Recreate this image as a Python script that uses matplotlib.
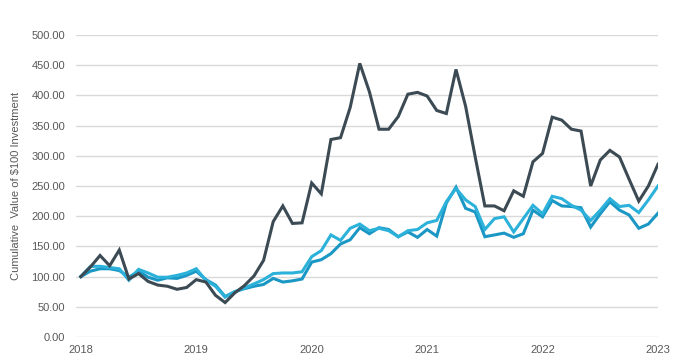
import matplotlib
matplotlib.use("Agg")
import matplotlib.pyplot as plt
import numpy as np

plt.rcParams['font.family'] = ['Liberation Sans', 'DejaVu Sans']

# monthly values, Jan 2018 .. Jan 2023
years = ["2018", "2019", "2020", "2021", "2022", "2023"]

dark = [100, 116, 135, 118, 144, 96, 105, 92, 86, 84, 79, 82,
        95, 91, 69, 57, 73, 85, 101, 127, 191, 217, 188, 189,
        255, 237, 327, 330, 380, 453, 406, 344, 344, 365, 402, 405,
        399, 375, 370, 443, 382, 298, 217, 217, 209, 242, 233, 290,
        304, 364, 359, 344, 341, 250, 293, 309, 298, 261, 225, 250,
        286]

blue_a = [100, 117, 117, 115, 113, 94, 112, 106, 99, 99, 102, 106,
          113, 94, 84, 66, 75, 81, 88, 95, 105, 106, 106, 108,
          133, 143, 169, 160, 180, 187, 176, 180, 176, 166, 176, 178,
          189, 193, 224, 246, 227, 216, 178, 196, 199, 174, 196, 218,
          204, 233, 229, 218, 210, 193, 210, 229, 216, 218, 206, 227,
          250]

blue_b = [100, 109, 113, 113, 110, 99, 109, 99, 94, 98, 97, 102,
          109, 95, 86, 67, 75, 80, 84, 87, 97, 91, 93, 96,
          124, 128, 138, 154, 161, 181, 171, 181, 178, 166, 174, 165,
          178, 167, 222, 248, 213, 207, 166, 169, 172, 165, 171, 210,
          199, 226, 217, 216, 214, 182, 204, 224, 210, 202, 180, 187,
          205]

months = np.arange(len(dark))

fig = plt.figure(figsize=(6.79, 3.64), dpi=100)
ax = fig.add_axes([76 / 679, 1 - 337 / 364, (658 - 76) / 679, (337 - 35) / 364])

ax.plot(months, blue_b, color="#1a97c4", lw=2.2, solid_joinstyle="miter")
ax.plot(months, blue_a, color="#2cb2da", lw=2.2, solid_joinstyle="miter")
ax.plot(months, dark, color="#3b4a53", lw=2.2, solid_joinstyle="miter")

ax.set_xlim(-0.5, 60)
ax.set_ylim(0, 500)
ax.set_yticks(np.arange(0, 501, 50))
ax.set_yticklabels([f"{v:.2f}" for v in np.arange(0, 501, 50)])
ax.set_xticks(np.arange(0, 61, 12))
ax.set_xticklabels(years)

ax.grid(axis="y", color="#d9d9d9", lw=1)
ax.set_axisbelow(True)
for s in ax.spines.values():
    s.set_visible(False)
ax.tick_params(length=0, labelsize=8, labelcolor="#595959")
ax.tick_params(axis="y", pad=8)
ax.tick_params(axis="x", pad=6)

ax.set_ylabel("Cumulative  Value of $100 Investment", fontsize=8, color="#595959", labelpad=7)

fig.savefig("out.png", dpi=100)
